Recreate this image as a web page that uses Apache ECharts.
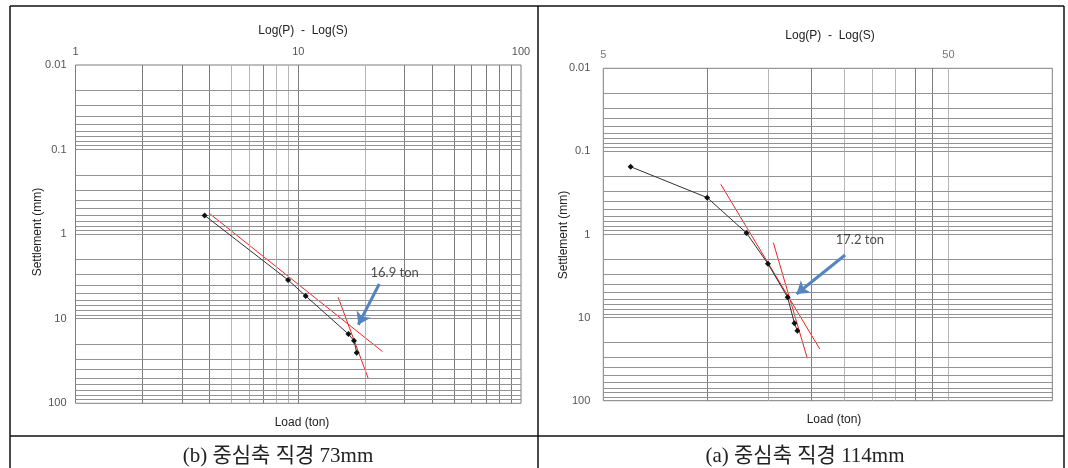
<!DOCTYPE html>
<html>
<head>
<meta charset="utf-8">
<script src="https://cdn.jsdelivr.net/npm/echarts@6/dist/echarts.min.js"></script>
<style>
  html, body { margin: 0; padding: 0; background: #fff; }
  #chart { width: 1068px; height: 468px; }
</style>
</head>
<body>
<div id="chart"></div>
<script>
// (b) shaft dia 73mm - left chart
const loadB = [3.8, 9.0, 10.8, 16.8, 17.8, 18.3];
const settleB = [0.6, 3.48, 5.38, 15.2, 18.2, 25.2];
const tangentB1 = [[4.02, 0.577], [23.9, 24.5]];
const tangentB2 = [[15.1, 5.57], [20.6, 50.5]];
const arrowB = [[23.1, 3.88], [18.6, 11.8]];
const labelPosB = [21.0, 2.88];
const yieldB = '16.9 ton';

// (a) shaft dia 114mm - right chart
const loadA = [6.0, 10.0, 13.0, 15.0, 17.1, 17.9, 18.25];
const settleA = [0.153, 0.36, 0.96, 2.25, 5.7, 11.7, 14.4];
const tangentA1 = [[10.95, 0.249], [21.2, 23.9]];
const tangentA2 = [[15.55, 1.255], [19.5, 30.9]];
const arrowA = [[25.1, 1.765], [18.15, 5.2]];
const labelPosA = [23.5, 1.16];
const yieldA = '17.2 ton';

// tick labels / grid lines
const xTicksA = [5, 50];
const gridXB_dark = [2, 3, 4, 7, 10, 30, 40, 50, 60, 70, 80, 90];
const gridXB_light = [5, 6, 8, 9, 20];
const gridXA_dark = [10, 20, 40, 45];
const gridXA_light = [15, 25, 30, 35, 50];
const gridY = [0.02, 0.03, 0.04, 0.05, 0.06, 0.07, 0.08, 0.09, 0.1,
               0.2, 0.3, 0.4, 0.5, 0.6, 0.7, 0.8, 0.9, 1,
               2, 3, 4, 5, 6, 7, 8, 9, 10,
               20, 30, 40, 50, 60, 70, 80, 90];

const captionB = '(b) 중심축 직경 73mm';
const captionA = '(a) 중심축 직경 114mm';

const axisFont = '"Liberation Sans", Arial, sans-serif';
const capFont = '"Liberation Serif", "Noto Sans CJK KR", serif';

function gridLines(axis, values, color) {
    return values.map(v => ({ [axis]: v, lineStyle: { color: color, width: 1, type: 'solid' } }));
}

function gridSeries(idx, xDark, xLight) {
    return {
        type: 'line', xAxisIndex: idx, yAxisIndex: idx, data: [], z: 1,
        markLine: {
            silent: true, symbol: 'none', animation: false,
            label: { show: false },
            data: gridLines('xAxis', xLight, '#b5b5b5')
                .concat(gridLines('xAxis', xDark, '#7d7d7d'))
                .concat(gridLines('yAxis', gridY, '#939393'))
        }
    };
}

function dataSeries(idx, xs, ys) {
    return {
        type: 'line', xAxisIndex: idx, yAxisIndex: idx, z: 5,
        data: xs.map((x, i) => [x, ys[i]]),
        symbol: 'diamond', symbolSize: 6,
        itemStyle: { color: '#111' },
        lineStyle: { color: '#333', width: 1 }
    };
}

function redLine(idx, pts) {
    return {
        type: 'line', xAxisIndex: idx, yAxisIndex: idx, z: 4,
        data: pts, symbol: 'none',
        lineStyle: { color: '#ee2222', width: 1 }
    };
}

function arrowSeries(idx, pts, labelPos, text) {
    return {
        type: 'scatter', xAxisIndex: idx, yAxisIndex: idx, z: 6,
        data: [labelPos], symbolSize: 1,
        itemStyle: { color: 'transparent' },
        label: {
            show: true, position: 'right', distance: 0,
            formatter: text, fontSize: 13, color: '#222',
            fontFamily: 'Lato, "Open Sans", sans-serif'
        },
        markLine: {
            silent: true, animation: false,
            symbol: ['none', 'arrow'], symbolSize: 12,
            label: { show: false },
            itemStyle: { color: '#5585c0' },
            lineStyle: { color: '#5585c0', width: 3, type: 'solid' },
            data: [[{ coord: pts[0] }, { coord: pts[1] }]]
        }
    };
}

function yAxisOpt(idx, margin) {
    return {
        gridIndex: idx, type: 'log', logBase: 10, min: 0.01, max: 100, inverse: true,
        axisLine: { show: false }, axisTick: { show: false }, splitLine: { show: false },
        axisLabel: {
            margin: margin, fontSize: 11, color: '#555', fontFamily: axisFont,
            formatter: v => String(Number(v.toPrecision(3)))
        }
    };
}

var myChart = echarts.init(document.getElementById('chart'));

var option = {
    animation: false,
    backgroundColor: '#fff',
    title: [
        { text: 'Log(P)  -  Log(S)', left: 298, top: 20, textAlign: 'center',
          textStyle: { fontSize: 12, fontWeight: 'normal', color: '#222', fontFamily: axisFont } },
        { text: 'Log(P)  -  Log(S)', left: 825, top: 25, textAlign: 'center',
          textStyle: { fontSize: 12, fontWeight: 'normal', color: '#222', fontFamily: axisFont } },
        { text: captionB, left: 273, top: 441, textAlign: 'center',
          textStyle: { fontSize: 21, fontWeight: 'normal', color: '#222', fontFamily: capFont } },
        { text: captionA, left: 800, top: 441, textAlign: 'center',
          textStyle: { fontSize: 21, fontWeight: 'normal', color: '#222', fontFamily: capFont } }
    ],
    grid: [
        { left: 75.5, top: 65, width: 445.5, height: 338.3, show: true, borderColor: '#7d7d7d', borderWidth: 1 },
        { left: 603.3, top: 68.3, width: 449, height: 332.4, show: true, borderColor: '#7d7d7d', borderWidth: 1 }
    ],
    xAxis: [
        { gridIndex: 0, type: 'log', logBase: 10, min: 1, max: 100, position: 'top',
          axisLine: { show: false }, axisTick: { show: false }, splitLine: { show: false },
          axisLabel: { margin: 8, fontSize: 11, color: '#555', fontFamily: axisFont } },
        { gridIndex: 1, type: 'log', logBase: 10, min: 5, max: 100, position: 'top',
          axisLine: { show: false }, axisTick: { show: false }, splitLine: { show: false },
          axisLabel: { show: false } }
    ],
    yAxis: [yAxisOpt(0, 9), yAxisOpt(1, 13)],
    series: [
        gridSeries(0, gridXB_dark, gridXB_light),
        gridSeries(1, gridXA_dark, gridXA_light),
        redLine(0, tangentB1),
        redLine(0, tangentB2),
        redLine(1, tangentA1),
        redLine(1, tangentA2),
        dataSeries(0, loadB, settleB),
        dataSeries(1, loadA, settleA),
        arrowSeries(0, arrowB, labelPosB, yieldB),
        arrowSeries(1, arrowA, labelPosA, yieldA),
        {
            type: 'scatter', xAxisIndex: 1, yAxisIndex: 1, z: 6,
            data: xTicksA.map(v => [v, 0.01]), symbolSize: 1,
            itemStyle: { color: 'transparent' },
            label: { show: true, position: 'top', distance: 7, formatter: p => String(p.value[0]),
                     fontSize: 11, color: '#555', fontFamily: axisFont }
        }
    ],
    graphic: [
        { type: 'text', x: 38, y: 232, rotation: Math.PI / 2,
          style: { text: 'Settlement (mm)', font: '12px ' + axisFont, fill: '#222', align: 'center', verticalAlign: 'middle' } },
        { type: 'text', x: 564, y: 235, rotation: Math.PI / 2,
          style: { text: 'Settlement (mm)', font: '12px ' + axisFont, fill: '#222', align: 'center', verticalAlign: 'middle' } },
        { type: 'text', x: 302, y: 423,
          style: { text: 'Load (ton)', font: '12px ' + axisFont, fill: '#222', align: 'center', verticalAlign: 'middle' } },
        { type: 'text', x: 834, y: 420,
          style: { text: 'Load (ton)', font: '12px ' + axisFont, fill: '#222', align: 'center', verticalAlign: 'middle' } },
        // table frame
        { type: 'line', shape: { x1: 10, y1: 6, x2: 1064, y2: 6 }, style: { stroke: '#111', lineWidth: 1.5 } },
        { type: 'line', shape: { x1: 10, y1: 436, x2: 1064, y2: 436 }, style: { stroke: '#111', lineWidth: 1.5 } },
        { type: 'line', shape: { x1: 10, y1: 6, x2: 10, y2: 468 }, style: { stroke: '#111', lineWidth: 1.5 } },
        { type: 'line', shape: { x1: 538, y1: 6, x2: 538, y2: 468 }, style: { stroke: '#111', lineWidth: 1.5 } },
        { type: 'line', shape: { x1: 1064, y1: 6, x2: 1064, y2: 468 }, style: { stroke: '#111', lineWidth: 1.5 } }
    ]
};
myChart.setOption(option);
</script>
</body>
</html>
